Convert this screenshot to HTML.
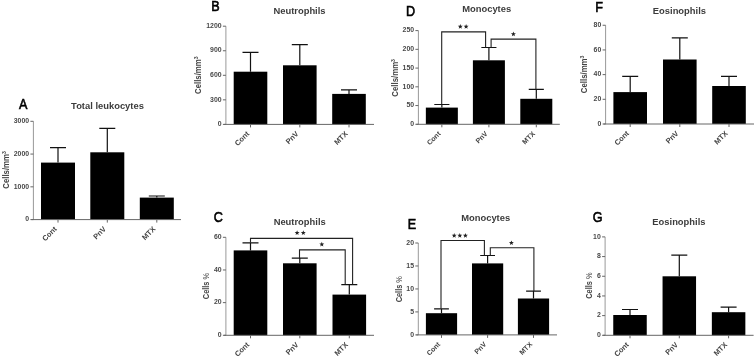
<!DOCTYPE html>
<html><head><meta charset="utf-8"><style>
html,body{margin:0;padding:0;background:#fff;}
svg{display:block;will-change:transform;filter:blur(0.4px);}
text{font-family:"Liberation Sans", sans-serif;}
.let{font-size:14px;font-weight:normal;fill:#000;stroke:#000;stroke-width:0.6;text-anchor:middle;}
.ttl{font-size:9.4px;font-weight:bold;fill:#3c3c3c;text-anchor:middle;}
.tl{font-size:7.6px;font-weight:bold;fill:#484848;text-anchor:end;}
.xl{font-size:7.5px;font-weight:bold;fill:#444;text-anchor:end;}
.yl{font-size:8.4px;font-weight:bold;fill:#444;text-anchor:middle;}
.star{font-size:9px;font-weight:bold;fill:#222;text-anchor:middle;}
.eb{stroke:#111;stroke-width:1.2;fill:none;}
.br{stroke:#222;stroke-width:1.1;fill:none;}
.yax{stroke:#999;stroke-width:1;fill:none;}
.yt{stroke:#666;stroke-width:1;fill:none;}
.xax{stroke:#666;stroke-width:1;fill:none;}
.xt{stroke:#666;stroke-width:1;fill:none;}
</style></head><body>
<svg width="755" height="357" viewBox="0 0 755 357">
<rect width="755" height="357" fill="#fff"/>
<g><text transform="translate(23.2 108.55) scale(0.9 1)" class="let">A</text><text x="107.5" y="108.7" class="ttl">Total leukocytes</text><rect x="41" y="162.6" width="34" height="57" fill="#000"/><rect x="90.3" y="152.3" width="34" height="67.3" fill="#000"/><rect x="139.8" y="197.6" width="34" height="22" fill="#000"/><path d="M58 162.6V147.6M50 147.6H66" class="eb"/><path d="M107.3 152.3V128.3M99.3 128.3H115.3" class="eb"/><path d="M156.8 197.6V196M148.8 196H164.8" class="eb"/><path d="M33.4 121.3V219.6" class="yax"/><path d="M30.4 219.6H33.4" class="yt"/><text transform="translate(29.1 221.3) scale(0.91 1)" class="tl">0</text><path d="M30.4 186.83H33.4" class="yt"/><text transform="translate(29.1 188.53) scale(0.91 1)" class="tl">1000</text><path d="M30.4 154.07H33.4" class="yt"/><text transform="translate(29.1 155.77) scale(0.91 1)" class="tl">2000</text><path d="M30.4 121.3H33.4" class="yt"/><text transform="translate(29.1 123) scale(0.91 1)" class="tl">3000</text><path d="M31.4 219.6H181" class="xax"/><path d="M58 219.6v3" class="xt"/><path d="M107.3 219.6v3" class="xt"/><path d="M156.8 219.6v3" class="xt"/><text transform="translate(57.2 229.5) rotate(-45)" class="xl" style="font-size:7.4px">Cont</text><text transform="translate(106.5 229.5) rotate(-45)" class="xl" style="font-size:7.4px">PnV</text><text transform="translate(156 229.5) rotate(-45)" class="xl" style="font-size:7.4px">MTX</text><text transform="translate(8.7 169.95) rotate(-90) scale(0.93 1)" class="yl">Cells/mm<tspan dy="-3.2" font-size="5.5">3</tspan></text></g>
<g><text transform="translate(215.5 11.15) scale(0.9 1)" class="let">B</text><text x="299.5" y="13.8" class="ttl">Neutrophils</text><rect x="233.7" y="71.7" width="33.6" height="52.7" fill="#000"/><rect x="283" y="65.3" width="33.6" height="59.1" fill="#000"/><rect x="332.2" y="93.9" width="33.6" height="30.5" fill="#000"/><path d="M250.5 71.7V52.3M242.5 52.3H258.5" class="eb"/><path d="M299.8 65.3V44.6M291.8 44.6H307.8" class="eb"/><path d="M349 93.9V89.9M341 89.9H357" class="eb"/><path d="M225.9 26.2V124.4" class="yax"/><path d="M222.9 124.4H225.9" class="yt"/><text transform="translate(221.6 126.1) scale(0.91 1)" class="tl">0</text><path d="M222.9 99.85H225.9" class="yt"/><text transform="translate(221.6 101.55) scale(0.91 1)" class="tl">300</text><path d="M222.9 75.3H225.9" class="yt"/><text transform="translate(221.6 77) scale(0.91 1)" class="tl">600</text><path d="M222.9 50.75H225.9" class="yt"/><text transform="translate(221.6 52.45) scale(0.91 1)" class="tl">900</text><path d="M222.9 26.2H225.9" class="yt"/><text transform="translate(221.6 27.9) scale(0.91 1)" class="tl">1200</text><path d="M223.9 124.4H374" class="xax"/><path d="M250.5 124.4v3" class="xt"/><path d="M299.8 124.4v3" class="xt"/><path d="M349 124.4v3" class="xt"/><text transform="translate(249.7 134.3) rotate(-45)" class="xl" style="font-size:7.4px">Cont</text><text transform="translate(299 134.3) rotate(-45)" class="xl" style="font-size:7.4px">PnV</text><text transform="translate(348.2 134.3) rotate(-45)" class="xl" style="font-size:7.4px">MTX</text><text transform="translate(200.9 75.2) rotate(-90) scale(0.93 1)" class="yl">Cells/mm<tspan dy="-3.2" font-size="5.5">3</tspan></text></g>
<g><text transform="translate(410.55 15.95) scale(0.9 1)" class="let">D</text><text x="486.7" y="11.7" class="ttl">Monocytes</text><rect x="425.85" y="107.6" width="32" height="16.7" fill="#000"/><rect x="472.9" y="60.3" width="32" height="64" fill="#000"/><rect x="520.3" y="98.8" width="32" height="25.5" fill="#000"/><path d="M441.85 107.6V104.5M434.3 104.5H449.4" class="eb"/><path d="M488.9 60.3V47.5M481.35 47.5H496.45" class="eb"/><path d="M536.3 98.8V89.4M528.75 89.4H543.85" class="eb"/><path d="M441.7 104.5V31.9H485.6V47.5" class="br"/><polygon points="460.30,24.00 460.95,25.71 462.77,25.80 461.35,26.94 461.83,28.70 460.30,27.70 458.77,28.70 459.25,26.94 457.83,25.80 459.65,25.71" fill="#222"/><polygon points="466.10,24.00 466.75,25.71 468.57,25.80 467.15,26.94 467.63,28.70 466.10,27.70 464.57,28.70 465.05,26.94 463.63,25.80 465.45,25.71" fill="#222"/><path d="M491.1 47.5V39.1H535.9V89.4" class="br"/><polygon points="513.40,31.50 514.05,33.21 515.87,33.30 514.45,34.44 514.93,36.20 513.40,35.20 511.87,36.20 512.35,34.44 510.93,33.30 512.75,33.21" fill="#222"/><path d="M418.4 30.6V124.3" class="yax"/><path d="M415.4 124.3H418.4" class="yt"/><text transform="translate(414.1 126) scale(0.91 1)" class="tl">0</text><path d="M415.4 105.56H418.4" class="yt"/><text transform="translate(414.1 107.26) scale(0.91 1)" class="tl">50</text><path d="M415.4 86.82H418.4" class="yt"/><text transform="translate(414.1 88.52) scale(0.91 1)" class="tl">100</text><path d="M415.4 68.08H418.4" class="yt"/><text transform="translate(414.1 69.78) scale(0.91 1)" class="tl">150</text><path d="M415.4 49.34H418.4" class="yt"/><text transform="translate(414.1 51.04) scale(0.91 1)" class="tl">200</text><path d="M415.4 30.6H418.4" class="yt"/><text transform="translate(414.1 32.3) scale(0.91 1)" class="tl">250</text><path d="M416.4 124.3H559.8" class="xax"/><path d="M441.85 124.3v3" class="xt"/><path d="M488.9 124.3v3" class="xt"/><path d="M536.3 124.3v3" class="xt"/><text transform="translate(441.05 134.2) rotate(-45)" class="xl" style="font-size:7.0px">Cont</text><text transform="translate(488.1 134.2) rotate(-45)" class="xl" style="font-size:7.0px">PnV</text><text transform="translate(535.5 134.2) rotate(-45)" class="xl" style="font-size:7.0px">MTX</text><text transform="translate(397.9 77.85) rotate(-90) scale(0.93 1)" class="yl">Cells/mm<tspan dy="-3.2" font-size="5.5">3</tspan></text></g>
<g><text transform="translate(599.05 11.6) scale(0.9 1)" class="let">F</text><text x="679.4" y="13.6" class="ttl">Eosinophils</text><rect x="613.4" y="92.1" width="33.6" height="31.9" fill="#000"/><rect x="663" y="59.5" width="33.6" height="64.5" fill="#000"/><rect x="712.2" y="86" width="33.6" height="38" fill="#000"/><path d="M630.2 92.1V76.4M622.2 76.4H638.2" class="eb"/><path d="M679.8 59.5V37.9M671.8 37.9H687.8" class="eb"/><path d="M729 86V76.4M721 76.4H737" class="eb"/><path d="M605.6 25.25V124" class="yax"/><path d="M602.6 124H605.6" class="yt"/><text transform="translate(601.3 125.7) scale(0.91 1)" class="tl">0</text><path d="M602.6 99.31H605.6" class="yt"/><text transform="translate(601.3 101.01) scale(0.91 1)" class="tl">20</text><path d="M602.6 74.62H605.6" class="yt"/><text transform="translate(601.3 76.33) scale(0.91 1)" class="tl">40</text><path d="M602.6 49.94H605.6" class="yt"/><text transform="translate(601.3 51.64) scale(0.91 1)" class="tl">60</text><path d="M602.6 25.25H605.6" class="yt"/><text transform="translate(601.3 26.95) scale(0.91 1)" class="tl">80</text><path d="M603.6 124H754" class="xax"/><path d="M630.2 124v3" class="xt"/><path d="M679.8 124v3" class="xt"/><path d="M729 124v3" class="xt"/><text transform="translate(629.4 133.9) rotate(-45)" class="xl" style="font-size:7.4px">Cont</text><text transform="translate(679 133.9) rotate(-45)" class="xl" style="font-size:7.4px">PnV</text><text transform="translate(728.2 133.9) rotate(-45)" class="xl" style="font-size:7.4px">MTX</text><text transform="translate(587.4 74.4) rotate(-90) scale(0.93 1)" class="yl">Cells/mm<tspan dy="-3.2" font-size="5.5">3</tspan></text></g>
<g><text transform="translate(218.35 221.9) scale(0.9 1)" class="let">C</text><text x="299.7" y="224.7" class="ttl">Neutrophils</text><rect x="233.7" y="250.4" width="33.6" height="84.9" fill="#000"/><rect x="283" y="263.3" width="33.6" height="72" fill="#000"/><rect x="332.5" y="294.6" width="33.6" height="40.7" fill="#000"/><path d="M250.5 250.4V242.8M242.5 242.8H258.5" class="eb"/><path d="M299.8 263.3V258.1M291.8 258.1H307.8" class="eb"/><path d="M349.3 294.6V284.6M341.3 284.6H357.3" class="eb"/><path d="M250.5 242.8V238.4H352.6V284.6" class="br"/><polygon points="297.10,230.30 297.75,232.01 299.57,232.10 298.15,233.24 298.63,235.00 297.10,234.00 295.57,235.00 296.05,233.24 294.63,232.10 296.45,232.01" fill="#222"/><polygon points="303.30,230.30 303.95,232.01 305.77,232.10 304.35,233.24 304.83,235.00 303.30,234.00 301.77,235.00 302.25,233.24 300.83,232.10 302.65,232.01" fill="#222"/><path d="M299.5 258.1V249.9H345.2V284.6" class="br"/><polygon points="321.80,241.80 322.45,243.51 324.27,243.60 322.85,244.74 323.33,246.50 321.80,245.50 320.27,246.50 320.75,244.74 319.33,243.60 321.15,243.51" fill="#222"/><path d="M225.9 237.3V335.3" class="yax"/><path d="M222.9 335.3H225.9" class="yt"/><text transform="translate(221.6 337) scale(0.91 1)" class="tl">0</text><path d="M222.9 302.63H225.9" class="yt"/><text transform="translate(221.6 304.33) scale(0.91 1)" class="tl">20</text><path d="M222.9 269.97H225.9" class="yt"/><text transform="translate(221.6 271.67) scale(0.91 1)" class="tl">40</text><path d="M222.9 237.3H225.9" class="yt"/><text transform="translate(221.6 239) scale(0.91 1)" class="tl">60</text><path d="M223.9 335.3H374" class="xax"/><path d="M250.5 335.3v3" class="xt"/><path d="M299.8 335.3v3" class="xt"/><path d="M349.3 335.3v3" class="xt"/><text transform="translate(249.7 345.2) rotate(-45)" class="xl" style="font-size:7.4px">Cont</text><text transform="translate(299 345.2) rotate(-45)" class="xl" style="font-size:7.4px">PnV</text><text transform="translate(348.5 345.2) rotate(-45)" class="xl" style="font-size:7.4px">MTX</text><text transform="translate(208.7 286.05) rotate(-90) scale(0.88 1)" class="yl">Cells <tspan font-weight="normal">%</tspan></text></g>
<g><text transform="translate(411.9 228.8) scale(0.9 1)" class="let">E</text><text x="485.7" y="221.4" class="ttl">Monocytes</text><rect x="425.9" y="313.2" width="31.2" height="21.7" fill="#000"/><rect x="472" y="263.4" width="31.2" height="71.5" fill="#000"/><rect x="517.9" y="298.5" width="31.2" height="36.4" fill="#000"/><path d="M441.5 313.2V308.8M434.1 308.8H448.9" class="eb"/><path d="M487.6 263.4V255.5M480.2 255.5H495" class="eb"/><path d="M533.5 298.5V291.1M526.1 291.1H540.9" class="eb"/><path d="M441 308.8V240.5H484.4V255.5" class="br"/><polygon points="454.20,233.00 454.85,234.71 456.67,234.80 455.25,235.94 455.73,237.70 454.20,236.70 452.67,237.70 453.15,235.94 451.73,234.80 453.55,234.71" fill="#222"/><polygon points="459.80,233.00 460.45,234.71 462.27,234.80 460.85,235.94 461.33,237.70 459.80,236.70 458.27,237.70 458.75,235.94 457.33,234.80 459.15,234.71" fill="#222"/><polygon points="465.40,233.00 466.05,234.71 467.87,234.80 466.45,235.94 466.93,237.70 465.40,236.70 463.87,237.70 464.35,235.94 462.93,234.80 464.75,234.71" fill="#222"/><path d="M490.3 255.5V247.8H533.9V291.1" class="br"/><polygon points="511.40,240.40 512.05,242.11 513.87,242.20 512.45,243.34 512.93,245.10 511.40,244.10 509.87,245.10 510.35,243.34 508.93,242.20 510.75,242.11" fill="#222"/><path d="M418.3 243V334.9" class="yax"/><path d="M415.3 334.9H418.3" class="yt"/><text transform="translate(414 336.6) scale(0.91 1)" class="tl">0</text><path d="M415.3 311.92H418.3" class="yt"/><text transform="translate(414 313.62) scale(0.91 1)" class="tl">5</text><path d="M415.3 288.95H418.3" class="yt"/><text transform="translate(414 290.65) scale(0.91 1)" class="tl">10</text><path d="M415.3 265.98H418.3" class="yt"/><text transform="translate(414 267.68) scale(0.91 1)" class="tl">15</text><path d="M415.3 243H418.3" class="yt"/><text transform="translate(414 244.7) scale(0.91 1)" class="tl">20</text><path d="M416.3 334.9H557" class="xax"/><path d="M441.5 334.9v3" class="xt"/><path d="M487.6 334.9v3" class="xt"/><path d="M533.5 334.9v3" class="xt"/><text transform="translate(440.7 344.8) rotate(-45)" class="xl" style="font-size:7.0px">Cont</text><text transform="translate(486.8 344.8) rotate(-45)" class="xl" style="font-size:7.0px">PnV</text><text transform="translate(532.7 344.8) rotate(-45)" class="xl" style="font-size:7.0px">MTX</text><text transform="translate(401.9 289.2) rotate(-90) scale(0.88 1)" class="yl">Cells <tspan font-weight="normal">%</tspan></text></g>
<g><text transform="translate(597.7 222.4) scale(0.9 1)" class="let">G</text><text x="678.9" y="224.8" class="ttl">Eosinophils</text><rect x="613.25" y="315" width="33.5" height="20.3" fill="#000"/><rect x="662.55" y="276.3" width="33.5" height="59" fill="#000"/><rect x="711.85" y="312.2" width="33.5" height="23.1" fill="#000"/><path d="M630 315V309.5M622 309.5H638" class="eb"/><path d="M679.3 276.3V255.2M671.3 255.2H687.3" class="eb"/><path d="M728.6 312.2V307.2M720.6 307.2H736.6" class="eb"/><path d="M605.1 236.9V335.3" class="yax"/><path d="M602.1 335.3H605.1" class="yt"/><text transform="translate(600.8 337) scale(0.91 1)" class="tl">0</text><path d="M602.1 315.62H605.1" class="yt"/><text transform="translate(600.8 317.32) scale(0.91 1)" class="tl">2</text><path d="M602.1 295.94H605.1" class="yt"/><text transform="translate(600.8 297.64) scale(0.91 1)" class="tl">4</text><path d="M602.1 276.26H605.1" class="yt"/><text transform="translate(600.8 277.96) scale(0.91 1)" class="tl">6</text><path d="M602.1 256.58H605.1" class="yt"/><text transform="translate(600.8 258.28) scale(0.91 1)" class="tl">8</text><path d="M602.1 236.9H605.1" class="yt"/><text transform="translate(600.8 238.6) scale(0.91 1)" class="tl">10</text><path d="M603.1 335.3H753.6" class="xax"/><path d="M630 335.3v3" class="xt"/><path d="M679.3 335.3v3" class="xt"/><path d="M728.6 335.3v3" class="xt"/><text transform="translate(629.2 345.2) rotate(-45)" class="xl" style="font-size:7.4px">Cont</text><text transform="translate(678.5 345.2) rotate(-45)" class="xl" style="font-size:7.4px">PnV</text><text transform="translate(727.8 345.2) rotate(-45)" class="xl" style="font-size:7.4px">MTX</text><text transform="translate(592 285.65) rotate(-90) scale(0.88 1)" class="yl">Cells <tspan font-weight="normal">%</tspan></text></g>
</svg>
</body></html>
